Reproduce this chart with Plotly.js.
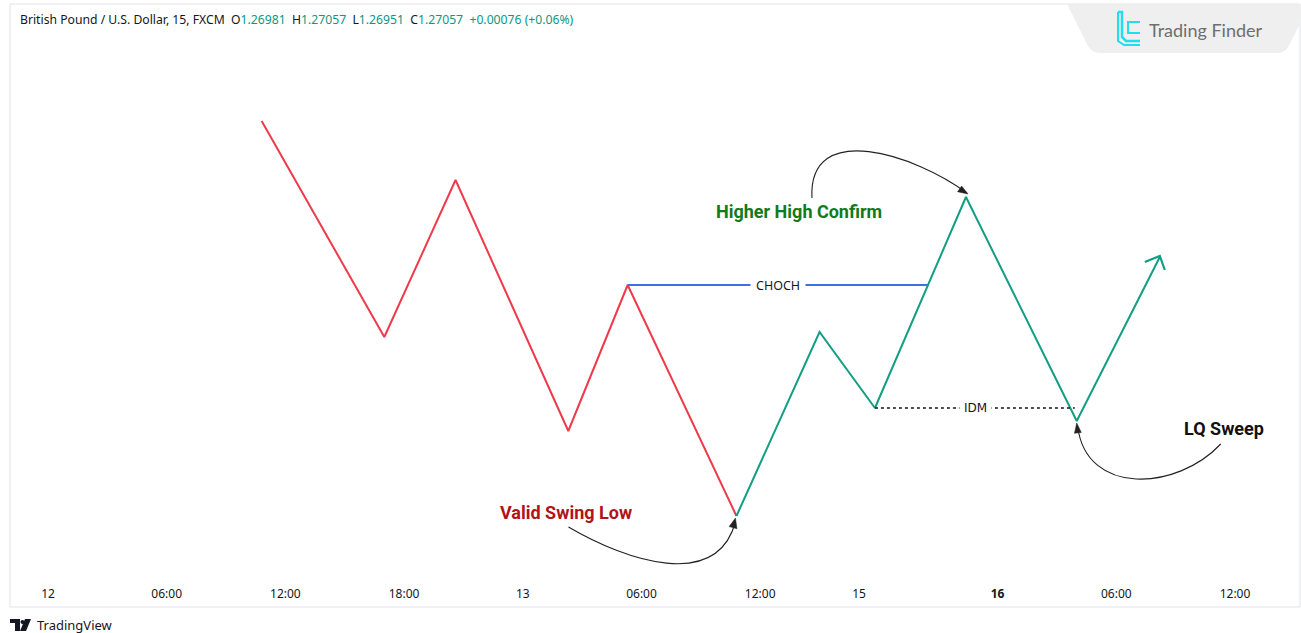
<!DOCTYPE html>
<html><head><meta charset="utf-8">
<script src="https://cdn.plot.ly/plotly-3.0.1.min.js"></script>
<style>html,body{margin:0;padding:0;background:#fff;}#chart{width:1301px;height:633px;}</style>
</head><body><div id="chart"></div>
<script>
// ---- data ----
const swingTimes  = [10.8, 17.0, 20.6, 26.3, 29.3, 34.8, 39.0, 41.8, 46.4, 52.0, 56.2];
const swingPrices = [1.27400, 1.27184, 1.27341, 1.27090, 1.27236, 1.27005, 1.27189, 1.27113, 1.27324, 1.27100, 1.27264];
const pivotIndex = 5;      // valid swing low, colour changes here
const chochIndex = 4;      // lower high broken by CHOCH
const idmIndex = 7;        // inducement low
const sweepIndex = 9;      // liquidity sweep low
const hhIndex = 8;         // higher high
const tickVals = [0, 6, 12, 18, 24, 30, 36, 41, 48, 54, 60];
const tickText = ['12', '06:00', '12:00', '18:00', '13', '06:00', '12:00', '15', '<b>16</b>', '06:00', '12:00'];
const quoteLabels = ['O', 'H', 'L', 'C'];
const quoteValues = ['1.26981', '1.27057', '1.26951', '1.27057'];
const quoteChange = '+0.00076 (+0.06%)';
const symbolTitle = 'British Pound / U.S. Dollar, 15, FXCM';

// ---- layout helpers ----
const W = 1301, H = 633, M = {l: 10, r: 1, t: 4, b: 58};
const PW = W - M.l - M.r, PH = H - M.t - M.b;
const px = x => (x - M.l) / PW;
const py = y => (H - M.b - y) / PH;

const RED = '#ef3a4b', GREEN = '#119e83', BLUE = '#3d6fe8', INK = '#131722';
const nb = '\u00a0';

// CHOCH end: where rising leg idm->hh crosses the CHOCH level
const lvl = swingPrices[chochIndex];
const t0 = swingTimes[idmIndex], t1 = swingTimes[hhIndex];
const p0 = swingPrices[idmIndex], p1 = swingPrices[hhIndex];
const chochEnd = t0 + (lvl - p0) / (p1 - p0) * (t1 - t0);

const lastIndex = swingTimes.length - 1;
const traces = [
  {x: swingTimes.slice(0, pivotIndex + 1), y: swingPrices.slice(0, pivotIndex + 1), mode: 'lines',
   line: {color: RED, width: 2}, hoverinfo: 'skip'},
  {x: swingTimes.slice(pivotIndex), y: swingPrices.slice(pivotIndex), mode: 'lines',
   line: {color: GREEN, width: 2}, hoverinfo: 'skip'},
  {x: [swingTimes[chochIndex], chochEnd], y: [lvl, lvl], mode: 'lines',
   line: {color: BLUE, width: 2}, hoverinfo: 'skip'},
  {x: [swingTimes[idmIndex], swingTimes[sweepIndex] - 0.1], y: [swingPrices[idmIndex], swingPrices[idmIndex]], mode: 'lines',
   line: {color: INK, width: 1.5, dash: 'dot'}, hoverinfo: 'skip'}
];

const quoteHtml = symbolTitle + nb + nb + quoteLabels.map((l, i) =>
  l + '<span style="color:#089981">' + quoteValues[i] + '</span>').join(nb + nb) +
  nb + nb + '<span style="color:#089981">' + quoteChange + '</span>';

function label(idx, text, dx, dy, color, size) {
  return {x: swingTimes[idx], y: swingPrices[idx], xref: 'x', yref: 'y', text: '<b>' + text + '</b>',
          showarrow: false, xshift: dx, yshift: dy, xanchor: 'center', yanchor: 'middle',
          font: {family: 'Roboto, sans-serif', size: size, color: color}};
}

const annotations = [
  {x: px(18), y: py(19), xref: 'paper', yref: 'paper', xanchor: 'left', yanchor: 'middle',
   text: quoteHtml, showarrow: false, font: {family: 'Noto Sans, sans-serif', size: 12.2, color: INK}},
  {x: (swingTimes[chochIndex] + chochEnd) / 2, y: lvl, xref: 'x', yref: 'y', text: 'CHOCH', showarrow: false,
   xanchor: 'center', yanchor: 'middle',
   bgcolor: '#ffffff', borderpad: 5, font: {family: 'Noto Sans, sans-serif', size: 12.5, color: INK}},
  {x: (swingTimes[idmIndex] + swingTimes[sweepIndex]) / 2, y: swingPrices[idmIndex], xref: 'x', yref: 'y', text: 'IDM',
   xanchor: 'center', yanchor: 'middle',
   showarrow: false, bgcolor: '#ffffff', borderpad: 4, font: {family: 'DejaVu Sans, sans-serif', size: 12, color: INK}},
  label(pivotIndex, 'Valid Swing Low', -170, 4, '#b3121a', 18),
  label(hhIndex, 'Higher High Confirm', -167, -14, '#127a1c', 18),
  label(sweepIndex, 'LQ Sweep', 147, -7, '#111111', 18),
  {x: px(1206), y: py(30), xref: 'paper', yref: 'paper', xanchor: 'center', yanchor: 'middle',
   text: 'Trading Finder', showarrow: false,
   font: {family: 'Lato, sans-serif', size: 18, color: '#6e6e6e'}},
  {x: px(35), y: py(625), xref: 'paper', yref: 'paper', xanchor: 'left', yanchor: 'middle',
   text: 'TradingView', showarrow: false,
   font: {family: 'Noto Sans, sans-serif', size: 13, color: INK}}
];

function anchoredPath(idx, path, opts) {
  opts = opts || {};
  return {type: 'path', xref: 'x', yref: 'y', xsizemode: 'pixel', ysizemode: 'pixel',
          xanchor: swingTimes[idx], yanchor: swingPrices[idx], path: path,
          line: {color: opts.color || '#222222', width: opts.width || 1.1},
          fillcolor: opts.fill || 'rgba(0,0,0,0)'};
}
const HEAD = {fill: '#222222', width: 0.5};

const shapes = [
  // chart frame
  {type: 'rect', xref: 'paper', yref: 'paper', x0: 0, x1: 1, y0: py(607), y1: 1,
   line: {color: '#e0e3eb', width: 1}, layer: 'below'},
  // Trading Finder badge
  {type: 'path', xref: 'paper', yref: 'paper',
   path: 'M' + px(1067) + ',' + py(4) + ' L' + px(1301) + ',' + py(4) + ' L' + px(1301) + ',' + py(22) +
         ' L' + px(1288) + ',' + py(47) + ' Q' + px(1285) + ',' + py(53) + ' ' + px(1276) + ',' + py(53) +
         ' L' + px(1100) + ',' + py(53) + ' Q' + px(1092) + ',' + py(53) + ' ' + px(1088) + ',' + py(46) + ' Z',
   fillcolor: '#efefef', line: {width: 0}, layer: 'below'},
  // Trading Finder icon
  {type: 'path', xref: 'paper', yref: 'paper',
   path: 'M' + px(1118) + ',' + py(12) + ' L' + px(1122) + ',' + py(12) + ' L' + px(1122) + ',' + py(37) +
         ' L' + px(1126) + ',' + py(41) + ' L' + px(1140) + ',' + py(41),
   line: {color: '#22dcef', width: 2.5}},
  {type: 'path', xref: 'paper', yref: 'paper',
   path: 'M' + px(1140) + ',' + py(22) + ' L' + px(1128) + ',' + py(22) + ' L' + px(1128) + ',' + py(33) +
         ' L' + px(1140) + ',' + py(33) + ' M' + px(1118) + ',' + py(12) + ' L' + px(1118) + ',' + py(41) +
         ' L' + px(1124) + ',' + py(45) + ' L' + px(1140) + ',' + py(45),
   line: {color: '#22dcef', width: 2}},
  // TradingView logo
  {type: 'path', xref: 'paper', yref: 'paper',
   path: 'M' + px(10) + ',' + py(619) + ' L' + px(20) + ',' + py(619) + ' L' + px(20) + ',' + py(631) +
         ' L' + px(15) + ',' + py(631) + ' L' + px(15) + ',' + py(623) + ' L' + px(10) + ',' + py(623) + ' Z' +
         ' M' + px(25) + ',' + py(619) + ' L' + px(31) + ',' + py(619) + ' L' + px(26) + ',' + py(631) +
         ' L' + px(20) + ',' + py(631) + ' Z',
   fillcolor: INK, line: {width: 0}},
  {type: 'circle', xref: 'paper', yref: 'paper', x0: px(20.5), x1: px(24.5), y0: py(624), y1: py(620),
   fillcolor: INK, line: {width: 0}},
  // open chevron at the end of the green leg
  anchoredPath(lastIndex, 'M-15,-5 L0,1 L5,-13', {color: GREEN, width: 2.2}),
  // curved arrows
  anchoredPath(pivotIndex, 'M-168,-11 C-110,-45 -20,-75 -1,-6'),
  anchoredPath(pivotIndex, 'M-1,-2 L0.5,-12.8 L-7.3,-10.6 Z', HEAD),
  anchoredPath(hhIndex, 'M-154,-1 C-158,78 -50,42 1,4'),
  anchoredPath(hhIndex, 'M2,3 L-4.3,11 L-8.4,5.3 Z', HEAD),
  anchoredPath(sweepIndex, 'M144,-23 C100,-70 10,-75 1,-6'),
  anchoredPath(sweepIndex, 'M0,-2 L4.6,-11.5 L-2.3,-12.3 Z', HEAD)
];

const scale = (tickVals[10] - tickVals[0]) / (1235 - 48);
const layout = {
  width: W, height: H, margin: M, showlegend: false,
  paper_bgcolor: '#ffffff', plot_bgcolor: '#ffffff',
  xaxis: {range: [tickVals[0] - (48 - M.l) * scale, tickVals[0] + (M.l + PW - 48) * scale],
          tickvals: tickVals, ticktext: tickText, showgrid: false, zeroline: false, showline: false,
          ticks: 'outside', ticklen: 8, tickcolor: 'rgba(0,0,0,0)',
          tickfont: {family: 'Noto Sans, sans-serif', size: 12, color: INK}, fixedrange: true},
  yaxis: {range: [1.26946, 1.27517], visible: false, fixedrange: true},
  annotations: annotations, shapes: shapes
};

Plotly.newPlot('chart', traces, layout, {displayModeBar: false, staticPlot: true});
</script></body></html>
